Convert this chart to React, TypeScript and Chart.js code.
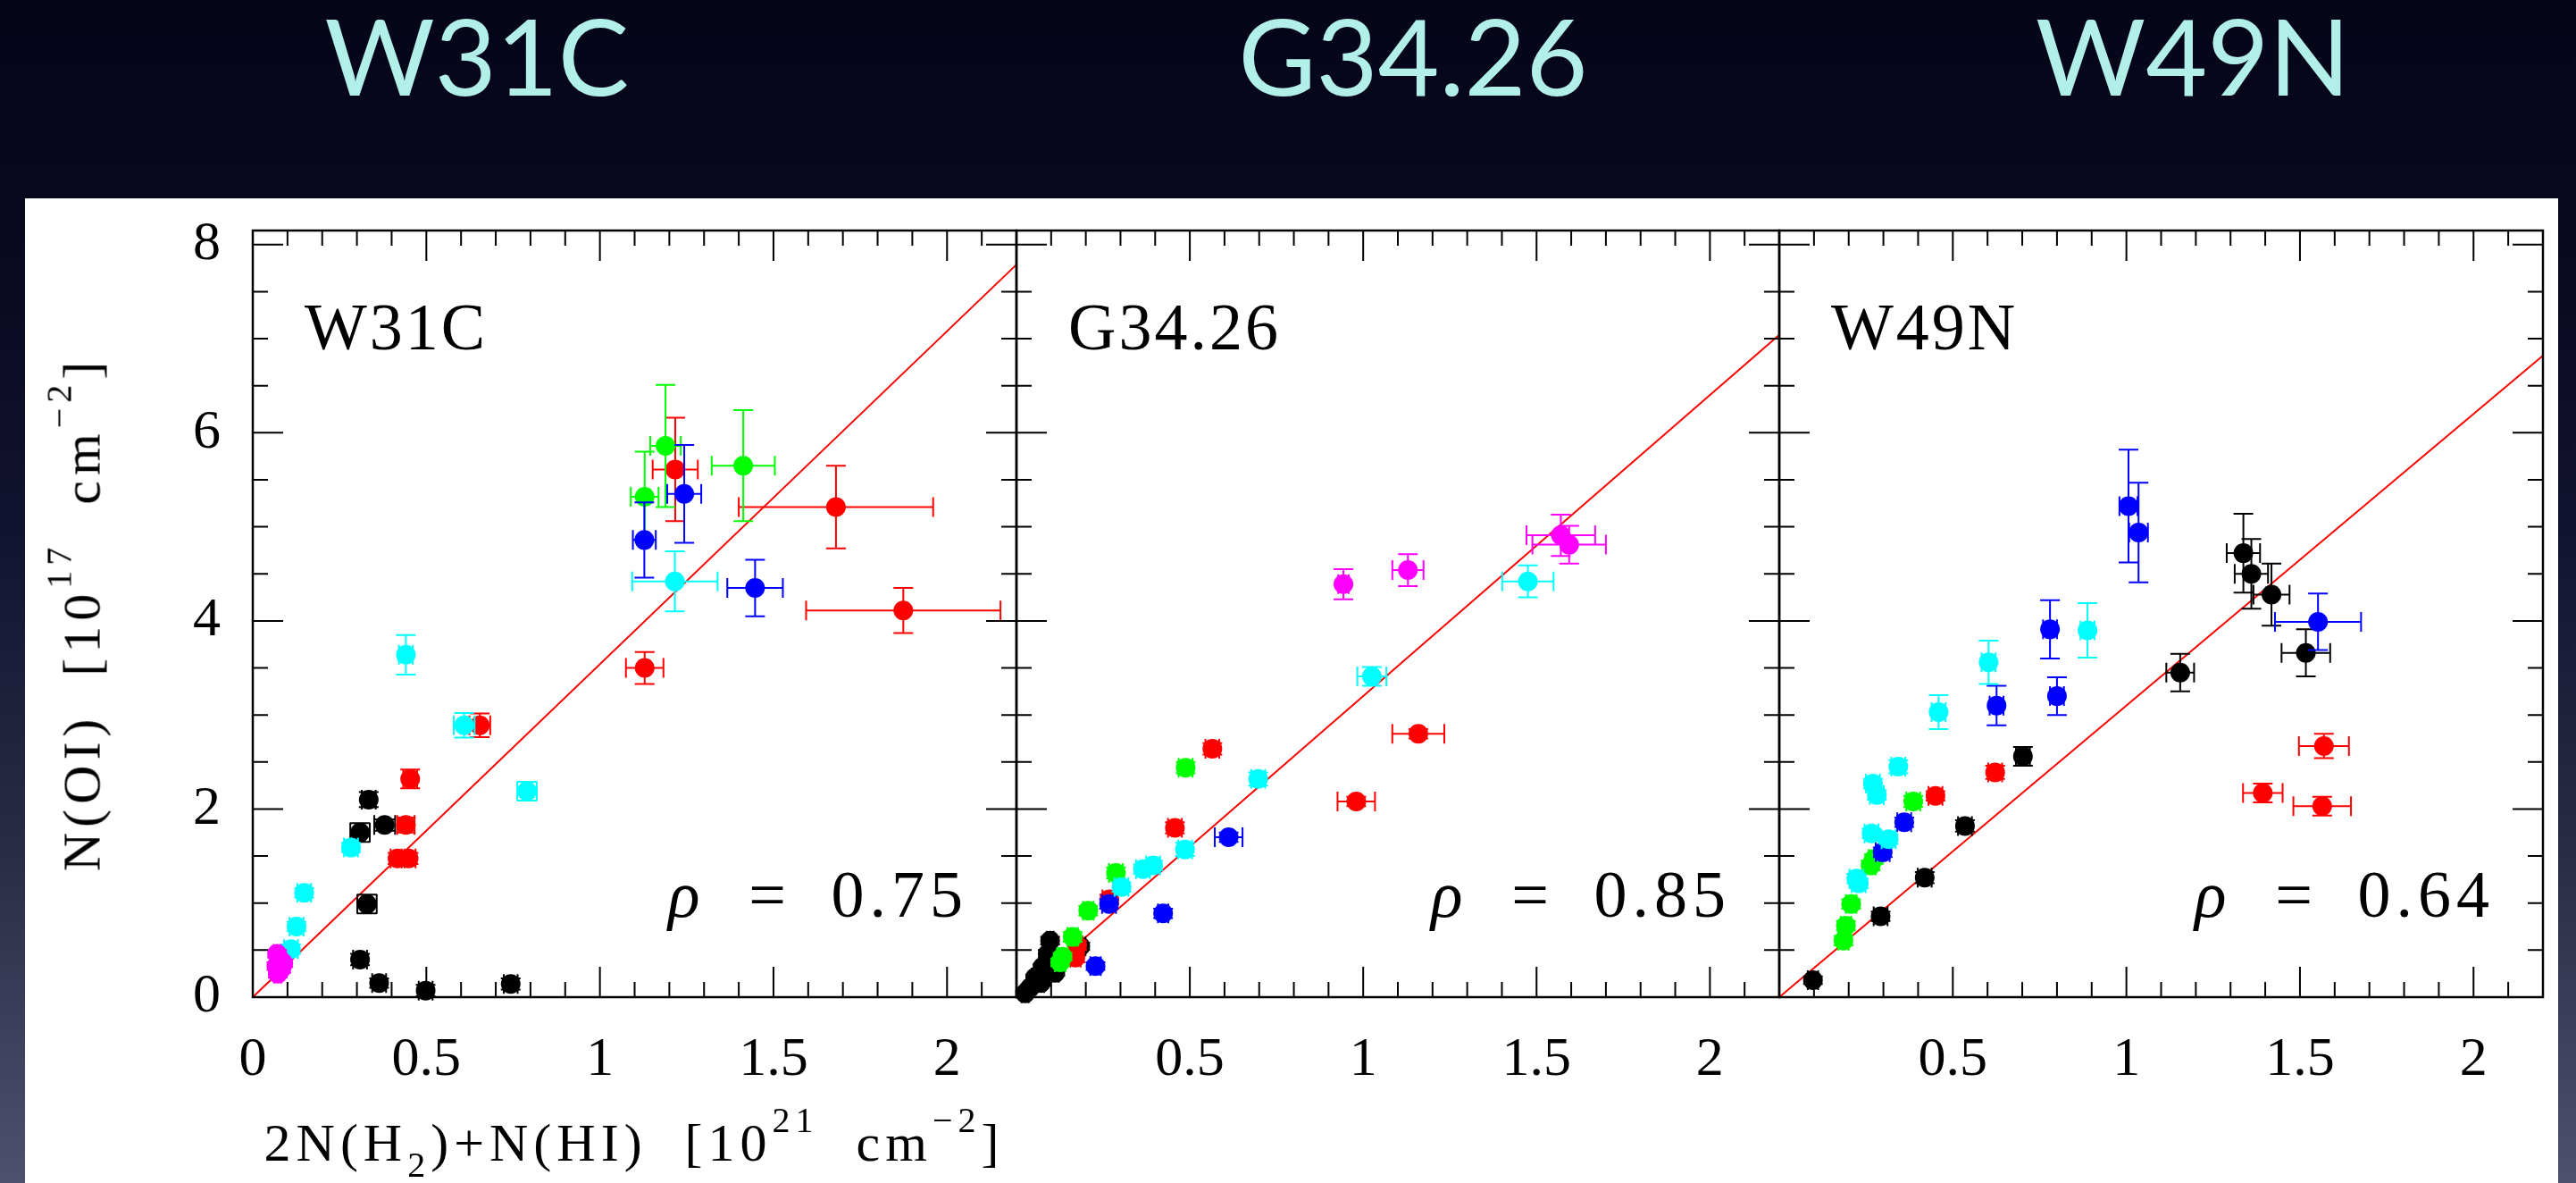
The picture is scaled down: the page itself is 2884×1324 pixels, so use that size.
import { useEffect, useRef } from 'react';
import { Chart, registerables } from 'chart.js';

Chart.register(...registerables);

// Each point: [x, y, xError, yError]  (x in 10^21 cm^-2, y in 10^17 cm^-2)
type Pt = [number, number, number, number];

// ---- W31C ----
const w31cBlack: Pt[] = [
  [0.334, 2.10, 0.02, 0.08],
  [0.309, 1.75, 0.028, 0.1],
  [0.380, 1.83, 0.03, 0.06],
  [0.329, 0.99, 0.028, 0.1],
  [0.309, 0.40, 0.02, 0.06],
  [0.364, 0.15, 0.02, 0.05],
  [0.498, 0.07, 0.02, 0.06],
  [0.743, 0.14, 0.02, 0.06],
];
const w31cRed: Pt[] = [
  [1.217, 5.61, 0.065, 0.55],
  [1.680, 5.21, 0.28, 0.44],
  [1.874, 4.11, 0.28, 0.24],
  [1.129, 3.50, 0.054, 0.17],
  [0.654, 2.89, 0.03, 0.125],
  [0.4535, 2.32, 0.02, 0.1],
  [0.441, 1.83, 0.025, 0.08],
  [0.417, 1.475, 0.02, 0.06],
  [0.449, 1.475, 0.02, 0.06],
];
const w31cGreen: Pt[] = [
  [1.189, 5.86, 0.044, 0.65],
  [1.129, 5.32, 0.04, 0.48],
  [1.413, 5.65, 0.091, 0.59],
];
const w31cBlue: Pt[] = [
  [1.128, 4.86, 0.033, 0.40],
  [1.243, 5.35, 0.049, 0.52],
  [1.447, 4.35, 0.08, 0.30],
];
const w31cCyan: Pt[] = [
  [1.216, 4.42, 0.123, 0.32],
  [0.441, 3.64, 0.02, 0.21],
  [0.609, 2.89, 0.03, 0.13],
  [0.790, 2.19, 0.028, 0.1],
  [0.283, 1.59, 0.02, 0.05],
  [0.148, 1.11, 0.02, 0.05],
  [0.126, 0.75, 0.02, 0.05],
  [0.110, 0.51, 0.02, 0.05],
];
const w31cMagenta: Pt[] = [
  [0.070, 0.46, 0.01, 0.04],
  [0.078, 0.40, 0.01, 0.04],
  [0.068, 0.33, 0.01, 0.04],
  [0.082, 0.30, 0.01, 0.04],
  [0.072, 0.25, 0.01, 0.04],
  [0.088, 0.36, 0.01, 0.04],
];

// ---- G34.26 ----
const g34Black: Pt[] = [
  [0.025, 0.04, 0.01, 0.03],
  [0.039, 0.10, 0.01, 0.03],
  [0.054, 0.21, 0.01, 0.03],
  [0.070, 0.15, 0.01, 0.03],
  [0.075, 0.32, 0.01, 0.03],
  [0.090, 0.46, 0.01, 0.04],
  [0.097, 0.60, 0.01, 0.04],
  [0.112, 0.26, 0.01, 0.03],
  [0.184, 0.54, 0.015, 0.04],
];
const g34Red: Pt[] = [
  [1.159, 2.80, 0.075, 0.05],
  [0.980, 2.08, 0.054, 0.05],
  [0.565, 2.64, 0.02, 0.06],
  [0.457, 1.80, 0.02, 0.06],
  [0.268, 1.04, 0.02, 0.05],
  [0.175, 0.55, 0.015, 0.05],
  [0.170, 0.42, 0.015, 0.05],
];
const g34Green: Pt[] = [
  [0.488, 2.44, 0.02, 0.06],
  [0.287, 1.32, 0.02, 0.06],
  [0.207, 0.92, 0.015, 0.05],
  [0.162, 0.64, 0.015, 0.05],
  [0.133, 0.43, 0.015, 0.04],
  [0.126, 0.37, 0.015, 0.04],
];
const g34Blue: Pt[] = [
  [0.612, 1.70, 0.04, 0.05],
  [0.267, 0.99, 0.02, 0.05],
  [0.423, 0.89, 0.015, 0.05],
  [0.228, 0.33, 0.015, 0.04],
];
const g34Cyan: Pt[] = [
  [1.475, 4.42, 0.074, 0.17],
  [1.025, 3.41, 0.042, 0.1],
  [0.697, 2.32, 0.02, 0.07],
  [0.486, 1.57, 0.02, 0.07],
  [0.394, 1.40, 0.02, 0.05],
  [0.365, 1.36, 0.02, 0.05],
  [0.303, 1.17, 0.02, 0.05],
];
const g34Magenta: Pt[] = [
  [1.570, 4.91, 0.099, 0.22],
  [1.594, 4.81, 0.106, 0.2],
  [1.129, 4.54, 0.045, 0.17],
  [0.943, 4.39, 0.015, 0.16],
];

// ---- W49N ----
const w49nBlack: Pt[] = [
  [0.097, 0.18, 0.015, 0.04],
  [0.292, 0.86, 0.02, 0.05],
  [0.419, 1.27, 0.02, 0.06],
  [0.535, 1.82, 0.02, 0.06],
  [0.702, 2.56, 0.02, 0.1],
  [1.155, 3.45, 0.04, 0.2],
  [1.337, 4.72, 0.048, 0.42],
  [1.360, 4.50, 0.048, 0.37],
  [1.418, 4.28, 0.052, 0.33],
  [1.517, 3.66, 0.07, 0.25],
];
const w49nRed: Pt[] = [
  [0.450, 2.14, 0.02, 0.05],
  [0.622, 2.39, 0.02, 0.07],
  [1.569, 2.67, 0.072, 0.13],
  [1.393, 2.17, 0.057, 0.1],
  [1.564, 2.03, 0.083, 0.1],
];
const w49nGreen: Pt[] = [
  [0.386, 2.08, 0.02, 0.06],
  [0.263, 1.40, 0.015, 0.05],
  [0.273, 1.47, 0.015, 0.05],
  [0.207, 0.99, 0.015, 0.05],
  [0.192, 0.76, 0.015, 0.05],
  [0.185, 0.60, 0.015, 0.05],
];
const w49nBlue: Pt[] = [
  [1.006, 5.22, 0.026, 0.6],
  [1.035, 4.94, 0.027, 0.53],
  [1.552, 3.99, 0.124, 0.30],
  [0.780, 3.91, 0.02, 0.31],
  [0.800, 3.20, 0.02, 0.20],
  [0.626, 3.10, 0.02, 0.21],
  [0.360, 1.86, 0.02, 0.05],
  [0.298, 1.54, 0.02, 0.05],
];
const w49nCyan: Pt[] = [
  [0.888, 3.90, 0.02, 0.29],
  [0.603, 3.56, 0.02, 0.23],
  [0.459, 3.03, 0.02, 0.18],
  [0.343, 2.45, 0.02, 0.07],
  [0.270, 2.27, 0.02, 0.05],
  [0.281, 2.15, 0.02, 0.05],
  [0.266, 1.74, 0.02, 0.05],
  [0.315, 1.68, 0.02, 0.05],
  [0.222, 1.26, 0.02, 0.05],
  [0.229, 1.21, 0.02, 0.05],
];
const w49nMagenta: Pt[] = [];

const panelNames = ['W31C', 'G34.26', 'W49N'];
const panelRho = ['0.75', '0.85', '0.64'];
const fitSlopes = [3.54, 3.2, 3.1];
const xTickLabels = ['0', '0.5', '1', '1.5', '2'];
const yTickLabels = ['0', '2', '4', '6', '8'];
const seriesColors = ['#000000', '#ff0000', '#00ff00', '#0000ff', '#00ffff', '#ff00ff'];
const panelSeries: Pt[][][] = [
  [w31cBlack, w31cRed, w31cGreen, w31cBlue, w31cCyan, w31cMagenta],
  [g34Black, g34Red, g34Green, g34Blue, g34Cyan, g34Magenta],
  [w49nBlack, w49nRed, w49nGreen, w49nBlue, w49nCyan, w49nMagenta],
];

const X_MIN = 0;
const X_MAX = 2.2;
const Y_MIN = 0;
const Y_MAX = 8.15;

// page geometry
const SHEET_LEFT = 28;
const SHEET_TOP = 222;
const SHEET_W = 2836;
const SHEET_H = 1102;
const FRAME_EDGES = [283, 1138, 1992, 2847];
const FRAME_TOP = 258;
const FRAME_BOTTOM = 1116;

const SERIF = '"Liberation Serif", "Times New Roman", serif';

const panelDecor: any = {
  id: 'panelDecor',
  beforeDatasetDraw(chart: any, args: any) {
    const ds: any = chart.data.datasets[args.index];
    if (!ds.errorBars) return;
    const { ctx } = chart;
    const xs = chart.scales.x;
    const ys = chart.scales.y;
    const cap = 11;
    ctx.save();
    ctx.strokeStyle = ds.backgroundColor;
    ctx.lineWidth = 2;
    ctx.beginPath();
    for (const p of ds.data) {
      const px = xs.getPixelForValue(p.x);
      const py = ys.getPixelForValue(p.y);
      if (p.xe > 0) {
        const a = xs.getPixelForValue(p.x - p.xe);
        const b = xs.getPixelForValue(p.x + p.xe);
        ctx.moveTo(a, py); ctx.lineTo(b, py);
        ctx.moveTo(a, py - cap); ctx.lineTo(a, py + cap);
        ctx.moveTo(b, py - cap); ctx.lineTo(b, py + cap);
      }
      if (p.ye > 0) {
        const a = ys.getPixelForValue(p.y - p.ye);
        const b = ys.getPixelForValue(p.y + p.ye);
        ctx.moveTo(px, a); ctx.lineTo(px, b);
        ctx.moveTo(px - cap, a); ctx.lineTo(px + cap, a);
        ctx.moveTo(px - cap, b); ctx.lineTo(px + cap, b);
      }
    }
    ctx.stroke();
    ctx.restore();
  },
  afterDatasetsDraw(chart: any) {
    const { ctx, chartArea } = chart;
    const { left, right, top, bottom } = chartArea;
    const xs = chart.scales.x;
    const ys = chart.scales.y;
    ctx.save();
    ctx.strokeStyle = '#000';
    ctx.lineWidth = 2;
    ctx.beginPath();
    // inward ticks: x minor every 0.1, major every 0.5
    for (let i = 0; i <= 22; i++) {
      const px = xs.getPixelForValue(i / 10);
      const len = i % 5 === 0 ? 34 : 17;
      ctx.moveTo(px, bottom); ctx.lineTo(px, bottom - len);
      ctx.moveTo(px, top); ctx.lineTo(px, top + len);
    }
    // y minor every 0.5, major every 2
    for (let i = 0; i <= 16; i++) {
      const py = ys.getPixelForValue(i / 2);
      const len = i % 4 === 0 ? 34 : 17;
      ctx.moveTo(left, py); ctx.lineTo(left + len, py);
      ctx.moveTo(right, py); ctx.lineTo(right - len, py);
    }
    ctx.stroke();
    ctx.lineWidth = 2.5;
    ctx.strokeRect(left, top, right - left, bottom - top);
    ctx.restore();
  },
  afterDraw(chart: any, _args: any, opts: any) {
    const { ctx, chartArea } = chart;
    const { left, right, top, bottom } = chartArea;
    ctx.save();
    ctx.fillStyle = '#000';
    ctx.textBaseline = 'alphabetic';
    ctx.font = `74px ${SERIF}`;
    ctx.textAlign = 'left';
    (ctx as any).letterSpacing = '3px';
    ctx.fillText(opts.name, left + 58, top + 133);
    const base = bottom - 90;
    (ctx as any).letterSpacing = '6px';
    ctx.textAlign = 'right';
    ctx.fillText(opts.rho, right - 54, base);
    (ctx as any).letterSpacing = '0px';
    ctx.textAlign = 'center';
    ctx.fillText('=', right - 279, base);
    ctx.font = `italic 74px ${SERIF}`;
    ctx.textAlign = 'left';
    ctx.fillText('\u03C1', right - 390, base);
    ctx.restore();
  },
};

// keep the axes from reserving extra room for overhanging tick labels
function fixAxis(s: any, size: number) {
  if (s.isHorizontal()) s.height = size;
  else s.width = size;
  s.paddingTop = 0;
  s.paddingBottom = 0;
  s.paddingLeft = 0;
  s.paddingRight = 0;
}

function buildConfig(idx: number): any {
  const series = panelSeries[idx];
  const scatterSets = series
    .map((pts, s) => ({
      label: `s${s}`,
      errorBars: true,
      data: pts.map(([x, y, xe, ye]) => ({ x, y, xe, ye })),
      backgroundColor: seriesColors[s],
      borderColor: seriesColors[s],
      pointRadius: 11,
      pointHoverRadius: 11,
      pointBorderWidth: 0,
      clip: false,
    }))
    .reverse(); // index 0 is painted last (on top)

  const fitLine = {
    label: 'fit',
    data: [X_MIN, X_MAX].map((x) => ({ x, y: fitSlopes[idx] * x })),
    showLine: true,
    borderColor: '#ff0000',
    backgroundColor: '#ff0000',
    borderWidth: 2,
    pointRadius: 0,
    clip: false,
  };

  const frameLeft = FRAME_EDGES[idx] - SHEET_LEFT;
  const frameRight = FRAME_EDGES[idx + 1] - SHEET_LEFT;
  const top = FRAME_TOP - SHEET_TOP;
  const bottom = FRAME_BOTTOM - SHEET_TOP;
  const yAxisW = idx === 0 ? 150 : 0;
  const xAxisH = 100;
  const tickFont = { family: SERIF, size: 62 };

  return {
    type: 'scatter',
    data: { datasets: [...scatterSets, fitLine] },
    plugins: [panelDecor],
    options: {
      animation: false,
      responsive: false,
      maintainAspectRatio: false,
      events: [],
      layout: {
        padding: {
          top,
          left: frameLeft - yAxisW,
          right: SHEET_W - frameRight,
          bottom: SHEET_H - bottom - xAxisH,
        },
      },
      plugins: {
        legend: { display: false },
        tooltip: { enabled: false },
        panelDecor: { name: panelNames[idx], rho: panelRho[idx] },
      },
      scales: {
        x: {
          type: 'linear',
          min: X_MIN,
          max: X_MAX,
          grid: { display: false, drawTicks: false },
          border: { display: false },
          afterFit: (s: any) => fixAxis(s, xAxisH),
          ticks: {
            stepSize: 0.5,
            includeBounds: false,
            autoSkip: false,
            maxRotation: 0,
            padding: 34,
            color: '#000',
            font: tickFont,
            callback: (_v: any, i: number) => (idx === 0 || i > 0 ? xTickLabels[i] : ''),
          },
        },
        y: {
          type: 'linear',
          min: Y_MIN,
          max: Y_MAX,
          display: idx === 0,
          grid: { display: false, drawTicks: false },
          border: { display: false },
          afterFit: (s: any) => fixAxis(s, yAxisW),
          ticks: {
            stepSize: 2,
            includeBounds: false,
            autoSkip: false,
            padding: 36,
            color: '#000',
            font: tickFont,
            callback: (_v: any, i: number) => yTickLabels[i],
          },
        },
      },
    },
  };
}

function PanelChart({ idx }: { idx: number }) {
  const ref = useRef<HTMLCanvasElement | null>(null);
  useEffect(() => {
    const canvas = ref.current;
    if (!canvas) return;
    const chart = new Chart(canvas, buildConfig(idx));
    return () => chart.destroy();
  }, [idx]);
  return (
    <canvas
      ref={ref}
      width={SHEET_W}
      height={SHEET_H}
      style={{ position: 'absolute', left: SHEET_LEFT, top: SHEET_TOP, width: SHEET_W, height: SHEET_H }}
    />
  );
}

const titleCenters = [534, 1582, 2455];

const supStyle: any = { fontSize: 40, position: 'relative', top: -32 };
const subStyle: any = { fontSize: 40, position: 'relative', top: 18 };

export default function App() {
  return (
    <div
      style={{
        position: 'absolute',
        left: 0,
        top: 0,
        width: 2884,
        height: 1324,
        overflow: 'hidden',
        background:
          'linear-gradient(180deg, #05051a 0%, #08081f 20%, #121330 45%, #2a2c47 72%, #4d516d 100%)',
      }}
    >
      {panelNames.map((name, i) => (
        <div
          key={name}
          style={{
            position: 'absolute',
            left: titleCenters[i] - 400,
            width: 800,
            top: 2,
            textAlign: 'center',
            fontFamily: 'Lato, "Noto Sans", sans-serif',
            fontSize: 119,
            lineHeight: '119px',
            color: '#b3efe9',
            whiteSpace: 'nowrap',
          }}
        >
          {name}
        </div>
      ))}
      <div
        style={{
          position: 'absolute',
          left: SHEET_LEFT,
          top: SHEET_TOP,
          width: SHEET_W,
          height: SHEET_H,
          background: '#ffffff',
        }}
      />
      {panelNames.map((name, i) => (
        <PanelChart key={name} idx={i} />
      ))}
      <div
        style={{
          position: 'absolute',
          left: 210,
          width: 1000,
          top: 1249,
          textAlign: 'center',
          fontFamily: SERIF,
          fontSize: 60,
          lineHeight: '60px',
          letterSpacing: '6px',
          whiteSpace: 'pre',
          color: '#000',
        }}
      >
        2N(H<span style={subStyle}>2</span>)+N(HI)  [10<span style={supStyle}>21</span>  cm<span style={supStyle}>{'\u22122'}</span>]
      </div>
      <div
        style={{
          position: 'absolute',
          left: 95,
          top: 687,
          transform: 'translate(-50%, -50%) rotate(-90deg)',
          fontFamily: SERIF,
          fontSize: 60,
          lineHeight: '60px',
          letterSpacing: '6px',
          whiteSpace: 'pre',
          color: '#000',
        }}
      >
        N(OI)  [10<span style={supStyle}>17</span>  cm<span style={supStyle}>{'\u22122'}</span>]
      </div>
    </div>
  );
}
